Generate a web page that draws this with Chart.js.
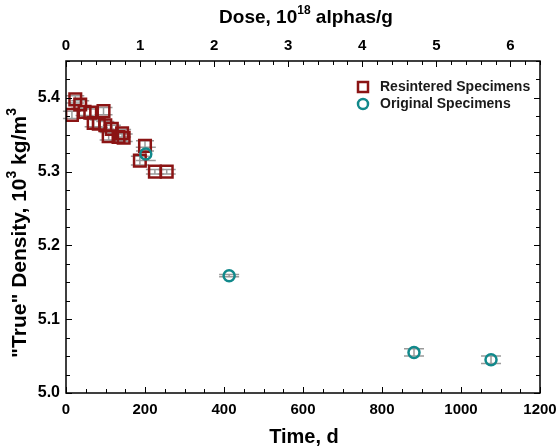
<!DOCTYPE html>
<html><head><meta charset="utf-8">
<script src="https://cdn.jsdelivr.net/npm/chart.js@4.4.1/dist/chart.umd.min.js"></script>
<style>html,body{margin:0;padding:0;background:#fff}#wrap{width:559px;height:448px}</style>
</head><body><div id="wrap"><canvas id="c" width="559" height="448"></canvas></div>
<script>
// ---- data ----
const seriesNames = ['Resintered Specimens', 'Original Specimens'];
const resinteredDays    = [23.5, 36, 15, 47, 61.5, 95, 70, 83, 99.5, 116, 142, 108, 133, 146, 200, 187, 225, 255];
const resinteredDensity = [5.398, 5.391, 5.377, 5.381, 5.380, 5.382, 5.366, 5.365, 5.363, 5.358, 5.352, 5.348, 5.347, 5.346, 5.335, 5.315, 5.300, 5.300];
const resinteredErr     = [0.005, 0.005, 0.005, 0.005, 0.005, 0.005, 0.005, 0.005, 0.005, 0.005, 0.005, 0.005, 0.005, 0.005, 0.007, 0.006, 0.003, 0.003];
const originalDays    = [202, 413, 881, 1076];
const originalDensity = [5.324, 5.159, 5.055, 5.045];
const originalErr     = [0.009, 0.0015, 0.005, 0.005];
const timeTicks    = [0, 200, 400, 600, 800, 1000, 1200];
const doseTicks    = [0, 1, 2, 3, 4, 5, 6];
const densityTicks = [5.0, 5.1, 5.2, 5.3, 5.4];
const xTitle  = [['Time, d', false]];
const x2Title = [['Dose, 10', false], ['18', true], [' alphas/g', false]];
const yTitle  = [['"True" Density, 10', false], ['3', true], [' kg/m', false], ['3', true]];

const RED = '#8b1414', TEAL = '#11898b';
const FONT = "'Liberation Sans', Arial, sans-serif";

const toPts = (xs, ys) => xs.map((x, i) => ({x: x, y: ys[i]}));

const errPlugin = {
  id: 'errbars',
  beforeDatasetsDraw(chart) {
    const ctx = chart.ctx, xs = chart.scales.x, ys = chart.scales.y;
    ctx.save();
    ctx.strokeStyle = '#9a9a9a'; ctx.lineWidth = 1.5;
    const sets = [[resinteredDays, resinteredDensity, resinteredErr, 9], [originalDays, originalDensity, originalErr, 10]];
    sets.forEach(([dx, dy, de, hw]) => {
      dx.forEach((d, i) => {
        const px = xs.getPixelForValue(d);
        const y1 = ys.getPixelForValue(dy[i] + de[i]);
        const y2 = ys.getPixelForValue(dy[i] - de[i]);
        ctx.beginPath();
        ctx.moveTo(px, y1); ctx.lineTo(px, y2);
        ctx.moveTo(px - hw, y1); ctx.lineTo(px + hw, y1);
        ctx.moveTo(px - hw, y2); ctx.lineTo(px + hw, y2);
        ctx.stroke();
      });
    });
    ctx.restore();
  }
};

const framePlugin = {
  id: 'frame',
  afterDraw(chart) {
    const ctx = chart.ctx, a = chart.chartArea, s = chart.scales;
    ctx.save();
    ctx.strokeStyle = '#000'; ctx.lineWidth = 1;
    const seg = (x1, y1, x2, y2) => { ctx.beginPath(); ctx.moveTo(x1, y1); ctx.lineTo(x2, y2); ctx.stroke(); };
    for (let k = 0; k <= 24; k++) {
      const p = Math.round(s.x.getPixelForValue(k * 50)) + 0.5;
      const L = k % 4 === 0 ? 6 : 4;
      seg(p, a.bottom, p, a.bottom - L);
    }
    for (let k = 0; k * 0.2 <= s.x2.max + 1e-9; k++) {
      const p = Math.round(s.x2.getPixelForValue(k * 0.2)) + 0.5;
      const L = k % 5 === 0 ? 6 : 4;
      seg(p, a.top, p, a.top + L);
    }
    for (let k = 0; k <= 18; k++) {
      const p = Math.round(s.y.getPixelForValue(5 + k * 0.025)) + 0.5;
      const L = k % 4 === 0 ? 6 : 4;
      seg(a.left, p, a.left + L, p);
      seg(a.right, p, a.right - L, p);
    }
    ctx.lineWidth = 1.5;
    ctx.strokeRect(a.left, a.top, a.right - a.left, a.bottom - a.top);
    ctx.restore();
  }
};

function richWidth(ctx, parts, size) {
  let w = 0;
  parts.forEach(([t, sup]) => { ctx.font = 'bold ' + (sup ? Math.round(size * 0.65) : size) + 'px ' + FONT; w += ctx.measureText(t).width; });
  return w;
}
function drawRich(ctx, parts, cx, cy, size) {
  const w = richWidth(ctx, parts, size);
  let x = cx - w / 2;
  ctx.textBaseline = 'middle'; ctx.textAlign = 'left';
  parts.forEach(([t, sup]) => {
    ctx.font = 'bold ' + (sup ? Math.round(size * 0.65) : size) + 'px ' + FONT;
    ctx.fillText(t, x, sup ? cy - size * 0.36 : cy);
    x += ctx.measureText(t).width;
  });
}
const titlePlugin = {
  id: 'titles',
  afterDraw(chart) {
    const ctx = chart.ctx, a = chart.chartArea;
    ctx.save(); ctx.fillStyle = '#000';
    const cx = (a.left + a.right) / 2;
    drawRich(ctx, xTitle, cx + 1, 437, 20);
    drawRich(ctx, x2Title, cx + 3, 18, 19);
    ctx.translate(20, (a.top + a.bottom) / 2 + 6);
    ctx.rotate(-Math.PI / 2);
    drawRich(ctx, yTitle, 0, 0, 21);
    ctx.restore();
  }
};

const legendPlugin = {
  id: 'boxLegend',
  afterDraw(chart) {
    const ctx = chart.ctx, a = chart.chartArea;
    ctx.save();
    const mx = a.right - 177, y0 = a.top + 26, dy = 17;
    ctx.lineWidth = 2.5;
    ctx.strokeStyle = RED;
    ctx.strokeRect(mx - 5, y0 - 5, 10, 10);
    ctx.strokeStyle = TEAL;
    ctx.beginPath(); ctx.arc(mx, y0 + dy, 5, 0, Math.PI * 2); ctx.stroke();
    ctx.fillStyle = '#1a1a1a';
    ctx.font = 'bold 14px ' + FONT;
    ctx.textBaseline = 'middle';
    ctx.fillText(seriesNames[0], mx + 17, y0);
    ctx.fillText(seriesNames[1], mx + 17, y0 + dy);
    ctx.restore();
  }
};

const tickFont = {family: FONT, size: 15, weight: 'bold'};
const yTickFont = {family: FONT, size: 16, weight: 'bold'};
const zeroPad = s => { s.paddingLeft = 0; s.paddingRight = 0; s.paddingTop = 0; s.paddingBottom = 0; };

new Chart(document.getElementById('c'), {
  type: 'scatter',
  data: {
    datasets: [
      {label: seriesNames[0], data: toPts(resinteredDays, resinteredDensity), order: 2,
       pointStyle: 'rect', pointRadius: 8.2, pointHoverRadius: 8.2, borderWidth: 2.5,
       borderColor: RED, backgroundColor: 'rgba(0,0,0,0)'},
      {label: seriesNames[1], data: toPts(originalDays, originalDensity), order: 1,
       pointStyle: 'circle', pointRadius: 5.5, pointHoverRadius: 5.5, borderWidth: 2.5,
       borderColor: TEAL, backgroundColor: 'rgba(0,0,0,0)'}
    ]
  },
  options: {
    responsive: false, animation: false, devicePixelRatio: 1,
    layout: {padding: {left: 0, right: 19, top: 0, bottom: 0}},
    plugins: {legend: {display: false}, tooltip: {enabled: false}},
    scales: {
      x: {type: 'linear', position: 'bottom', min: 0, max: 1200,
          afterFit: s => { s.height = 55; zeroPad(s); },
          afterBuildTicks: s => { s.ticks = timeTicks.map(v => ({value: v})); },
          grid: {display: false, drawTicks: false}, border: {display: false},
          ticks: {font: tickFont, color: '#000', padding: 8, maxRotation: 0, autoSkip: false, callback: v => String(v)},
          title: {display: false, text: 'Time, d'}},
      x2: {type: 'linear', position: 'top', min: 0, max: 6.4,
          afterFit: s => { s.height = 61; zeroPad(s); },
          afterBuildTicks: s => { s.ticks = doseTicks.map(v => ({value: v})); },
          grid: {display: false, drawTicks: false}, border: {display: false},
          ticks: {font: tickFont, color: '#000', padding: 6, maxRotation: 0, autoSkip: false, callback: v => String(v)},
          title: {display: false, text: 'Dose, 10^18 alphas/g'}},
      y: {type: 'linear', position: 'left', min: 5.0, max: 5.45,
          afterFit: s => { s.width = 66; zeroPad(s); },
          afterBuildTicks: s => { s.ticks = densityTicks.map(v => ({value: v})); },
          grid: {display: false, drawTicks: false}, border: {display: false},
          ticks: {font: yTickFont, color: '#000', padding: 6, callback: v => Number(v).toFixed(1)},
          title: {display: false, text: '"True" Density, 10^3 kg/m^3'}}
    }
  },
  plugins: [errPlugin, framePlugin, titlePlugin, legendPlugin]
});
</script></body></html>
